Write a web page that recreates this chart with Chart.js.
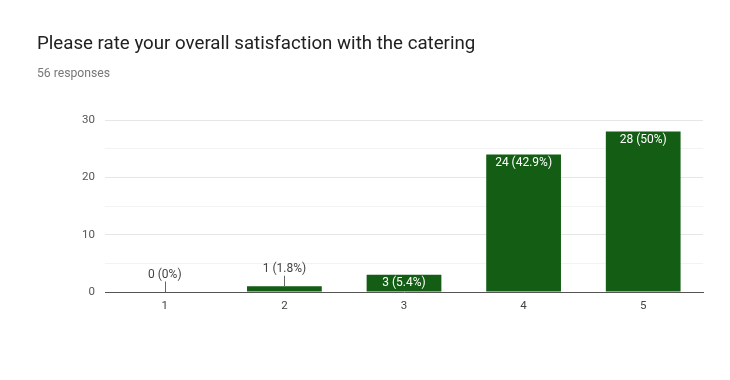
<!DOCTYPE html>
<html><head><meta charset="utf-8">
<script src="https://cdn.jsdelivr.net/npm/chart.js@4.4.1/dist/chart.umd.min.js"></script>
<style>
html,body{margin:0;padding:0;background:#fff;width:730px;height:380px;overflow:hidden}
#wrap{position:absolute;left:0;top:0;width:730px;height:380px}
#title{position:absolute;left:37px;top:32px;font-family:Roboto,Arial,sans-serif;font-size:18.7px;color:#212121;white-space:nowrap}
#sub{position:absolute;left:37px;top:66px;font-family:Roboto,Arial,sans-serif;font-size:12.2px;color:#777;white-space:nowrap}
</style></head><body>
<div id="wrap"><canvas id="c" width="730" height="380"></canvas></div>
<div id="title">Please rate your overall satisfaction with the catering</div>
<div id="sub">56 responses</div>
<script>
const categories = ['1','2','3','4','5'];
const counts = [0, 1, 3, 24, 28];
const labels = ['0 (0%)', '1 (1.8%)', '3 (5.4%)', '24 (42.9%)', '28 (50%)'];
const yTicks = [0, 10, 20, 30];

const labelPlugin = {
  id: 'barLabels',
  afterDatasetsDraw(chart) {
    const ctx = chart.ctx;
    const meta = chart.getDatasetMeta(0);
    ctx.save();
    ctx.font = '12px Roboto, Arial, sans-serif';
    ctx.textAlign = 'center';
    ctx.textBaseline = 'middle';
    meta.data.forEach((bar, i) => {
      const h = bar.base - bar.y;
      if (h >= 15) {
        ctx.fillStyle = '#ffffff';
        ctx.fillText(labels[i], bar.x, bar.y + 8.5);
      } else {
        ctx.fillStyle = '#444';
        const ty = bar.y - 17.5;
        ctx.fillText(labels[i], bar.x, ty);
        ctx.strokeStyle = '#666';
        ctx.lineWidth = 1;
        ctx.beginPath();
        ctx.moveTo(Math.round(bar.x) + 0.5, ty + 7);
        ctx.lineTo(Math.round(bar.x) + 0.5, bar.y);
        ctx.stroke();
      }
    });
    ctx.restore();
  }
};

new Chart(document.getElementById('c'), {
  type: 'bar',
  data: {
    labels: categories,
    datasets: [{
      data: counts,
      backgroundColor: '#135d14',
      barPercentage: 0.625,
      categoryPercentage: 1.0
    }]
  },
  options: {
    responsive: false,
    animation: false,
    devicePixelRatio: 1,
    layout: { padding: { left: 0, right: 27, top: 120, bottom: 0 } },
    plugins: { legend: { display: false }, tooltip: { enabled: false } },
    scales: {
      x: {
        grid: { display: false, drawTicks: false },
        border: { display: true, color: '#555', width: 1 },
        ticks: { color: '#444', font: { family: 'Roboto, Arial, sans-serif', size: 11.5 }, padding: 7 },
        afterFit: s => { s.height = 88; }
      },
      y: {
        min: 0, max: 30,
        afterFit: s => { s.width = 105; },
        grid: {
          drawTicks: false,
          color: c => c.tick.value === 0 ? 'rgba(0,0,0,0)' : (c.tick.value % 10 === 0 ? '#e6e6e6' : '#f3f3f3'),
          lineWidth: 1
        },
        border: { display: false },
        ticks: {
          stepSize: 5,
          color: '#555',
          padding: 10,
          font: { family: 'Roboto, Arial, sans-serif', size: 11.5 },
          callback: v => yTicks.includes(v) ? String(v) : ''
        }
      }
    }
  },
  plugins: [labelPlugin]
});
</script>
</body></html>
